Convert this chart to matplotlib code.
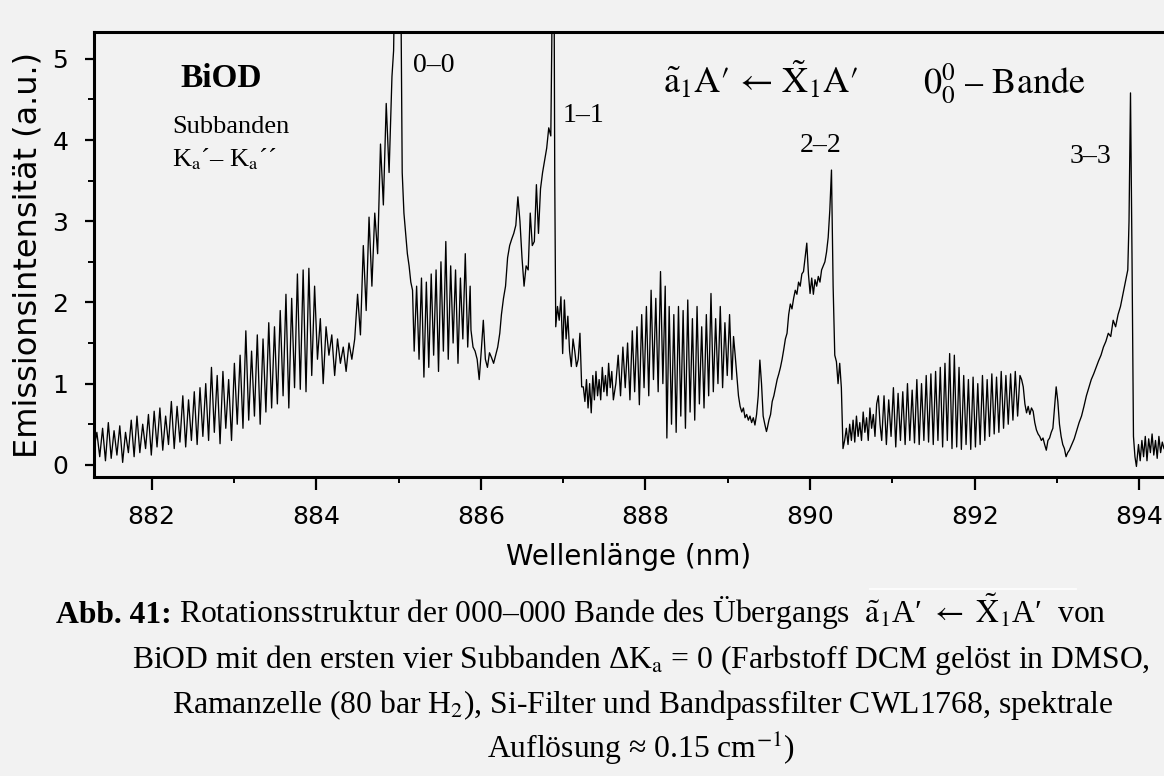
import numpy as np
import matplotlib
matplotlib.use("Agg")
import matplotlib.pyplot as plt
from matplotlib.lines import Line2D
from matplotlib.ticker import MultipleLocator

# ---------------------------------------------------------------------------
# Emission spectrum of BiOD, stored piecewise.
# Each piece: (first wavelength nm, last wavelength nm, intensities sampled
# evenly between the two wavelengths).
# ---------------------------------------------------------------------------
branch_00 = (881.30, 884.92, [
    0.20, 0.40, 0.10, 0.45, 0.05, 0.52, 0.08, 0.42, 0.12, 0.48, 0.03, 0.40, 0.15, 0.55,
    0.10, 0.60, 0.15, 0.50, 0.20, 0.62, 0.12, 0.66, 0.22, 0.70, 0.18, 0.60,
    0.25, 0.78, 0.20, 0.72, 0.28, 0.85, 0.22, 0.80, 0.30, 0.90, 0.25, 0.95,
    0.35, 1.00, 0.30, 1.20, 0.40, 1.10, 0.26, 1.15, 0.45, 1.05, 0.30, 1.25,
    0.50, 1.35, 0.45, 1.65, 0.55, 1.40, 0.60, 1.60, 0.50, 1.55, 0.65, 1.75, 0.70, 1.70,
    0.75, 1.90, 0.85, 2.10, 0.70, 2.05, 0.95, 2.35, 0.93, 2.40, 0.90, 2.42, 1.10, 2.20,
    1.30, 1.80, 1.00, 1.70, 1.35, 1.60, 1.10, 1.55, 1.25, 1.45, 1.15, 1.50, 1.30,
    1.55, 2.10, 1.60, 2.70, 1.90, 3.05, 2.20, 3.10, 2.60, 3.95, 3.20, 4.45, 3.60, 4.78])

head_00 = (884.94, 885.17, [
    5.10, 6.50, 7.60, 7.40, 6.50, 3.60, 3.10, 2.85, 2.60, 2.45, 2.25, 2.15])

tail_00 = (885.19, 885.87, [
    1.40, 2.20, 1.30, 2.30, 1.08, 2.25, 1.20, 2.35, 1.35, 2.40, 1.15, 2.50,
    1.40, 2.75, 1.30, 2.45, 1.50, 2.40, 1.25, 2.30, 1.55, 2.60, 1.45, 2.20])

gap_01 = (885.88, 886.23, [
    1.66, 1.45, 1.40, 1.30, 1.05, 1.40, 1.78, 1.30, 1.20, 1.38, 1.32, 1.25,
    1.35, 1.45, 1.62])

branch_11 = (886.25, 886.85, [
    1.85, 2.05, 2.20, 2.55, 2.70, 2.78, 2.85, 2.95, 3.30, 3.00, 2.55, 2.20,
    2.45, 2.40, 3.10, 2.70, 2.75, 3.45, 2.85, 3.40, 3.60, 3.75, 3.90, 4.15, 4.05])

head_11 = (886.862, 886.898, [5.20, 7.20, 7.00, 3.50])

tail_11a = (886.91, 887.225, [
    1.70, 1.95, 1.78, 2.07, 1.37, 2.03, 1.55, 1.83, 1.40, 1.21, 1.55, 1.40,
    1.21, 1.30, 1.62, 0.96])

tail_11b = (887.245, 887.61, [
    0.96, 0.78, 1.05, 0.70, 1.00, 0.64, 1.10, 0.80, 1.15, 0.85, 1.05, 0.80,
    1.20, 0.90, 1.10, 0.85, 1.25, 0.95, 1.15, 0.80])

tail_11c = (887.64, 888.24, [
    1.00, 1.35, 0.85, 1.45, 0.95, 1.50, 0.80, 1.65, 0.90, 1.70, 0.74, 1.85,
    0.95, 1.95, 0.85, 2.15, 1.05, 2.05, 0.90, 2.38, 1.00, 2.20])

tail_11d = (888.26, 889.05, [
    0.33, 1.95, 0.50, 1.85, 0.40, 1.95, 0.60, 1.90, 0.45, 2.03, 0.65, 1.80,
    0.55, 1.95, 0.75, 1.70, 0.70, 1.85, 0.85, 2.11, 0.90, 1.80, 1.00, 1.95,
    0.95, 1.75, 1.10, 1.85, 1.05])

gap_12 = (889.07, 889.47, [
    1.58, 1.35, 1.10, 0.85, 0.72, 0.65, 0.70, 0.58, 0.62, 0.55, 0.60, 0.52,
    0.58, 0.49, 0.62, 0.85, 1.29, 1.00, 0.60, 0.50, 0.41])

branch_22 = (889.48, 890.26, [
    0.45, 0.55, 0.62, 0.78, 0.85, 0.95, 1.05, 1.12, 1.20, 1.30, 1.42, 1.55,
    1.62, 1.85, 1.98, 1.92, 2.05, 2.15, 2.10, 2.25, 2.20, 2.35, 2.38, 2.55,
    2.73, 2.35, 2.11, 2.30, 2.10, 2.28, 2.20, 2.32, 2.25, 2.40, 2.45, 2.50,
    2.62, 2.80, 3.14, 3.63])

drop_22 = (890.28, 890.40, [2.20, 1.35, 1.27, 1.00, 1.25, 0.95, 0.20])

tail_22a = (890.42, 890.85, [
    0.30, 0.45, 0.25, 0.50, 0.30, 0.55, 0.28, 0.60, 0.35, 0.52, 0.30, 0.65,
    0.40, 0.58, 0.30, 0.70, 0.45, 0.62, 0.35, 0.75, 0.85, 0.50])

tail_22b = (890.87, 892.55, [
    0.30, 0.85, 0.25, 0.80, 0.35, 0.95, 0.22, 0.88, 0.30, 0.90,
    0.25, 1.00, 0.30, 0.92, 0.27, 1.05, 0.25, 1.00, 0.30, 1.10,
    0.28, 1.12, 0.25, 1.15, 0.30, 1.20, 0.22, 1.25, 0.30, 1.37,
    0.20, 1.35, 0.22, 1.20, 0.19, 1.10, 0.25, 1.05, 0.19, 1.08,
    0.22, 1.00, 0.25, 1.10, 0.30, 1.05, 0.35, 1.12, 0.38, 1.08,
    0.40, 1.15, 0.45, 1.10, 0.50, 1.12, 0.55, 1.15, 0.60, 1.10])

gap_23 = (892.57, 893.13, [
    1.05, 0.96, 0.75, 0.64, 0.72, 0.62, 0.70, 0.66, 0.52, 0.43, 0.38, 0.35,
    0.30, 0.33, 0.25, 0.18, 0.30, 0.33, 0.40, 0.45, 0.70, 0.96, 0.78, 0.50,
    0.35, 0.25, 0.20, 0.10, 0.15])

branch_33 = (893.15, 893.86, [
    0.18, 0.25, 0.32, 0.42, 0.52, 0.60, 0.72, 0.85, 0.95, 1.05, 1.12, 1.20,
    1.28, 1.35, 1.45, 1.52, 1.62, 1.58, 1.78, 1.70, 1.85, 1.95, 2.10, 2.25, 2.40])

head_33 = (893.875, 893.965, [3.00, 4.58, 2.60, 0.35, 0.10, -0.02])

tail_33 = (893.99, 894.30, [
    0.25, 0.05, 0.30, 0.10, 0.35, 0.05, 0.32, 0.15, 0.38, 0.12, 0.30, 0.08,
    0.35, 0.15, 0.28, 0.20])

pieces = [branch_00, head_00, tail_00, gap_01, branch_11, head_11,
          tail_11a, tail_11b, tail_11c, tail_11d, gap_12, branch_22, drop_22,
          tail_22a, tail_22b, gap_23, branch_33, head_33, tail_33]

wavelength = np.concatenate([np.linspace(a, b, len(v)) for a, b, v in pieces])
intensity = np.concatenate([np.asarray(v, float) for a, b, v in pieces])

band_labels = ["0\u20130", "1\u20131", "2\u20132", "3\u20133"]

x_range = (881.30, 894.30)
y_range = (-0.15, 5.33)

# ---------------------------------------------------------------------------
BG = "#f2f2f2"
SERIF = ["Liberation Serif", "STIXGeneral", "DejaVu Serif"]
STIX = ["STIXGeneral", "DejaVu Serif"]
SANS = ["DejaVu Sans"]
plt.rcParams["mathtext.fontset"] = "stix"

W, H = 1164, 776
fig = plt.figure(figsize=(W / 100, H / 100), dpi=100, facecolor=BG)


def px(x, y):
    """Figure-fraction coordinates from pixel position (origin top-left)."""
    return x / W, 1 - y / H


ax_left, ax_right, ax_top, ax_bottom = 94, 1164, 32, 477
ax = fig.add_axes([ax_left / W, 1 - ax_bottom / H,
                   (ax_right - ax_left) / W, (ax_bottom - ax_top) / H])
ax.set_facecolor(BG)

ax.plot(wavelength, intensity, color="black", lw=0.95)

ax.set_xlim(*x_range)
ax.set_ylim(*y_range)

ax.xaxis.set_major_locator(MultipleLocator(2))
ax.xaxis.set_minor_locator(MultipleLocator(1))
ax.yaxis.set_major_locator(MultipleLocator(1))
ax.yaxis.set_minor_locator(MultipleLocator(0.5))

for s in ("left", "bottom", "top"):
    ax.spines[s].set_linewidth(2.2)
ax.spines["right"].set_visible(False)

ax.tick_params(axis="x", which="major", direction="out", length=9.5, width=1.6,
               pad=11, labelsize=18)
ax.tick_params(axis="x", which="minor", direction="out", length=4, width=1.4)
ax.tick_params(axis="y", which="major", direction="out", length=6.5, width=1.6,
               pad=12, labelsize=18)
ax.tick_params(axis="y", which="minor", direction="out", length=4, width=1.4)
for lab in ax.get_xticklabels() + ax.get_yticklabels():
    lab.set_family(SANS)

ax.set_xlabel("Wellenl\u00e4nge (nm)", fontsize=20, family=SANS, labelpad=10)
fig.text(*px(28, 255), "Emissionsintensit\u00e4t (a.u.)", rotation=90,
         ha="center", va="center", fontsize=23, family=SANS)

# In-plot annotations
fig.text(*px(180, 87), "BiOD", fontsize=24, fontweight="bold", family=SERIF,
         va="baseline")
fig.text(*px(172, 133), "Subbanden", fontsize=19, family=SERIF, va="baseline")
fig.text(*px(172, 166), "K$_{\\rm a}$\u00b4\u2013 K$_{\\rm a}$\u00b4\u00b4",
         fontsize=19, family=SERIF, va="baseline")

label_pos = [(413, 72), (563, 122), (800, 152), (1070, 163)]
for text, (lx, ly) in zip(band_labels, label_pos):
    fig.text(*px(lx, ly), text, fontsize=20, family=SERIF, va="baseline")

fig.text(*px(663, 93),
         "$\\tilde{\\rm a}_1$A\u2032 \u2190 $\\tilde{\\rm X}_1$A\u2032",
         fontsize=26, family=STIX, va="baseline")
fig.text(*px(923, 93), "$0_0^0$ \u2013 Bande",
         fontsize=26, family=STIX, va="baseline")

# Figure caption
cap_size = 22.8
bold = fig.text(*px(56, 623), "Abb. 41:", fontsize=cap_size, fontweight="bold",
                family=SERIF, va="baseline")
fig.canvas.draw()
bb = bold.get_window_extent(fig.canvas.get_renderer())
fig.text(bb.x1 / W + 7 / W, 1 - 623 / H,
         "Rotationsstruktur der 000\u2013000 Bande des \u00dcbergangs  "
         "$\\tilde{\\rm a}_1$A\u2032 $\\leftarrow$ $\\tilde{\\rm X}_1$A\u2032  von",
         fontsize=cap_size, family=SERIF, va="baseline")
fig.text(*px(132, 668),
         "BiOD mit den ersten vier Subbanden \u0394K$_{\\rm a}$ = 0 "
         "(Farbstoff DCM gel\u00f6st in DMSO,",
         fontsize=cap_size, family=SERIF, va="baseline")
fig.text(*px(172, 713),
         "Ramanzelle (80 bar H$_2$), Si-Filter und Bandpassfilter CWL1768, spektrale",
         fontsize=cap_size, family=SERIF, va="baseline")
fig.text(*px(641, 758), "Aufl\u00f6sung \u2248 0.15 cm$^{-1}$)",
         fontsize=cap_size, family=SERIF, va="baseline", ha="center")

# thin white rule above the caption formula
fig.add_artist(Line2D([870 / W, 1076 / W], [1 - 589 / H, 1 - 589 / H],
                      color="white", lw=1.2, transform=fig.transFigure))

fig.savefig("out.png", dpi=100, facecolor=BG)
